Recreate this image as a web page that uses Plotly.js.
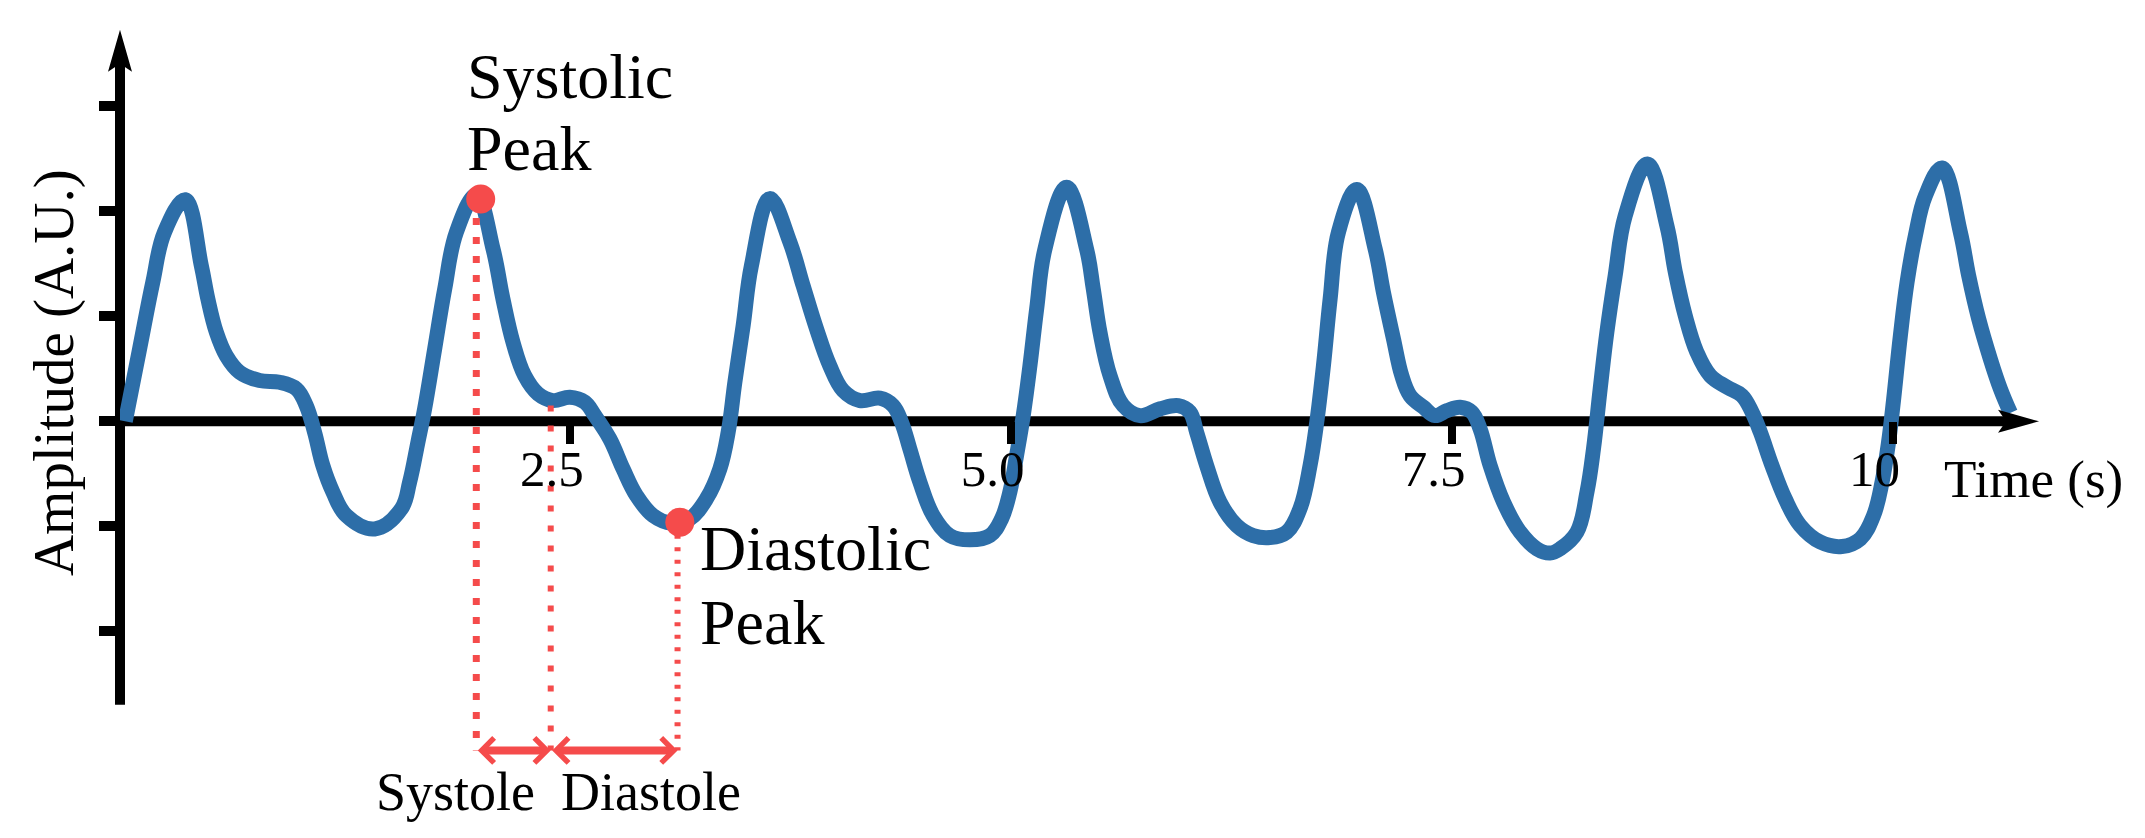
<!DOCTYPE html>
<html>
<head>
<meta charset="utf-8">
<script src="https://cdn.plot.ly/plotly-3.0.1.min.js"></script>
<style>
  html, body { margin: 0; padding: 0; background: white; }
  #ppgChart { width: 2145px; height: 838px; }
</style>
</head>
<body>
<div id="ppgChart"></div>
<script>
// PPG waveform (time in s, amplitude in arbitrary units)
const timeS = [
    -0.020, 0.061, 0.136, 0.202, 0.320, 0.411, 0.448, 0.496, 0.552, 0.628, 0.741, 0.855, 0.950,
    1.006, 1.053, 1.100, 1.157, 1.233, 1.394, 1.545, 1.592, 1.639, 1.677, 1.734, 1.791, 1.857, 1.970,
    2.065, 2.121, 2.178, 2.244, 2.320, 2.405, 2.500, 2.585, 2.642, 2.727, 2.802, 2.878, 2.972,
    3.077, 3.180, 3.275, 3.351, 3.398, 3.436, 3.483, 3.530, 3.634, 3.748, 3.823, 3.899, 3.974,
    4.050, 4.145, 4.258, 4.333, 4.381, 4.428, 4.485, 4.560, 4.655, 4.769, 4.882, 4.948, 4.995,
    5.033, 5.071, 5.109, 5.147, 5.194, 5.317, 5.430, 5.468, 5.506, 5.563, 5.638, 5.733, 5.846, 5.950,
    6.016, 6.054, 6.111, 6.187, 6.281, 6.375, 6.470, 6.565, 6.640, 6.697, 6.735, 6.773, 6.811, 6.858, 6.962,
    7.066, 7.113, 7.170, 7.217, 7.264, 7.340, 7.406, 7.473, 7.548, 7.614, 7.661, 7.718, 7.794, 7.888, 7.983,
    8.058, 8.115, 8.210, 8.267, 8.304, 8.342, 8.380, 8.427, 8.484, 8.610, 8.720, 8.768, 8.824, 8.890, 8.966,
    9.061, 9.146, 9.203, 9.250, 9.316, 9.391, 9.476, 9.590, 9.713, 9.817, 9.892, 9.940, 9.977,
    10.006, 10.044, 10.082, 10.129, 10.186, 10.280, 10.384, 10.431, 10.488, 10.554, 10.611, 10.668
];
const amplitude = [
    0.000, 0.690, 1.326, 1.802, 2.112, 1.484, 1.167, 0.850, 0.627, 0.469, 0.389, 0.373, 0.310,
    0.150, -0.103, -0.421, -0.674, -0.897, -1.025, -0.833, -0.579, -0.198, 0.119, 0.690, 1.262, 1.802, 2.157,
    1.643, 1.167, 0.754, 0.436, 0.262, 0.198, 0.230, 0.183, 0.055, -0.167, -0.452, -0.707, -0.897,
    -0.970, -0.929, -0.738, -0.452, -0.103, 0.373, 0.912, 1.484, 2.122, 1.707, 1.293, 0.881, 0.531,
    0.293, 0.198, 0.221, 0.150, -0.008, -0.262, -0.579, -0.897, -1.088, -1.129, -1.088, -0.929, -0.674,
    -0.326, 0.055, 0.531, 1.071, 1.643, 2.230, 1.643, 1.262, 0.850, 0.436, 0.150, 0.055, 0.119, 0.150,
    0.088, -0.103, -0.421, -0.770, -0.992, -1.088, -1.107, -1.055, -0.833, -0.421, -0.008, 0.531, 1.167, 1.802, 2.208,
    1.643, 1.230, 0.786, 0.436, 0.246, 0.135, 0.055, 0.103, 0.135, 0.088, -0.071, -0.421, -0.770, -1.055, -1.214,
    -1.255, -1.214, -1.055, -0.674, -0.262, 0.310, 0.850, 1.389, 1.960, 2.452, 1.865, 1.421, 1.008, 0.659, 0.436,
    0.326, 0.246, 0.088, -0.103, -0.421, -0.738, -0.992, -1.150, -1.192, -1.119, -0.897, -0.579, -0.198,
    0.214, 0.817, 1.326, 1.770, 2.150, 2.414, 1.802, 1.389, 0.976, 0.595, 0.310, 0.081
];

// marked peaks: [systolic, diastolic]
const peakTimes = [1.995, 3.124];
const peakAmps = [2.119, -0.960];
const peakLabelLines = [['Systolic', 'Peak'], ['Diastolic', 'Peak']];

// interval boundaries: systole start, systole end (dicrotic notch), diastole end
const intervalTimes = [1.970, 2.392, 3.111];
const intervalTops = [2.119, 0.150, -0.960];
const intervalNames = ['Systole', 'Diastole'];
const intervalLevel = -3.135;   // height of the systole / diastole arrows

// axes
const xTickVals = [2.5, 5, 7.5, 10];
const xTickText = ['2.5', '5.0', '7.5', '10'];
const yTickVals = [-2, -1, 0, 1, 2, 3];
const axisOrigin = -0.05;
const xAxisEnd = 10.83;
const yAxisTop = 3.73;
const yAxisBottom = -2.70;

const xRange = [-0.05, 11.0];
const yRange = [-3.35, 3.9];

const BLUE = '#2d6ea8';
const RED = '#f54b4b';
const SERIF = 'Liberation Serif, Times New Roman, serif';

const intervalDash = ['7px,12px', '6px,14px', '4px,8.5px'];

const traces = [
    {
        x: timeS,
        y: amplitude,
        type: 'scatter',
        mode: 'lines',
        line: { color: BLUE, width: 15, shape: 'spline', smoothing: 1.1 },
        hoverinfo: 'skip'
    }
];

// dotted guides from the curve down to the interval arrows
intervalTimes.forEach((t, i) => {
    traces.push({
        x: [t, t],
        y: [intervalTops[i], intervalLevel],
        type: 'scatter',
        mode: 'lines',
        line: { color: RED, width: i === 0 ? 7 : 6, dash: intervalDash[i] }
    });
});

traces.push({
    x: peakTimes,
    y: peakAmps,
    type: 'scatter',
    mode: 'markers',
    marker: { color: RED, size: 29 }
});

const yZeroPaper = (0 - yRange[0]) / (yRange[1] - yRange[0]);

const shapes = [
    // time axis, kept under the trace
    { type: 'line', xref: 'x', yref: 'y', x0: axisOrigin, x1: xAxisEnd - 0.15, y0: 0, y1: 0,
      line: { color: 'black', width: 10 }, layer: 'below' },
    // amplitude axis (paper x so it is not clipped at the plot edge)
    { type: 'line', xref: 'paper', yref: 'y', x0: 0, x1: 0, y0: yAxisBottom, y1: yAxisTop - 0.3,
      line: { color: 'black', width: 10 }, layer: 'below' },
    // arrow heads, drawn in pixels around the axis ends
    { type: 'path', xref: 'x', yref: 'paper', xsizemode: 'pixel', ysizemode: 'pixel',
      xanchor: xAxisEnd, yanchor: yZeroPaper,
      path: 'M 0 0 L -41 11.5 L -33 0 L -41 -11.5 Z',
      fillcolor: 'black', line: { width: 0 } },
    { type: 'path', xref: 'paper', yref: 'y', xsizemode: 'pixel', ysizemode: 'pixel',
      xanchor: 0, yanchor: yAxisTop,
      path: 'M 0 0 L 12 -42 L 0 -34 L -12 -42 Z',
      fillcolor: 'black', line: { width: 0 } }
];

function intervalArrow(t0, t1) {
    return {
        x: t1, y: intervalLevel, ax: t0, ay: intervalLevel,
        xref: 'x', yref: 'y', axref: 'x', ayref: 'y',
        text: '', showarrow: true,
        arrowhead: 4, arrowside: 'end+start', arrowwidth: 8, arrowsize: 0.6, arrowcolor: RED
    };
}

const annotations = [
    intervalArrow(intervalTimes[0], intervalTimes[1]),
    intervalArrow(intervalTimes[1], intervalTimes[2]),
    {
        x: intervalTimes[1], y: intervalLevel, xref: 'x', yref: 'y',
        text: intervalNames[0], showarrow: false, xanchor: 'right', yanchor: 'top',
        xshift: -14, yshift: -10,
        font: { family: SERIF, size: 54, color: 'black' }
    },
    {
        x: intervalTimes[1], y: intervalLevel, xref: 'x', yref: 'y',
        text: intervalNames[1], showarrow: false, xanchor: 'left', yanchor: 'top',
        xshift: 8, yshift: -10,
        font: { family: SERIF, size: 54, color: 'black' }
    },
    // axis titles
    {
        x: 1, y: 0, xref: 'paper', yref: 'y',
        text: 'Time (s)', showarrow: false, xanchor: 'right', yanchor: 'middle',
        xshift: 56, yshift: -58,
        font: { family: SERIF, size: 53, color: 'black' }
    },
    {
        x: 0, y: 0.46, xref: 'paper', yref: 'y',
        text: 'Amplitude (A.U.)', showarrow: false, textangle: -90,
        xanchor: 'center', yanchor: 'middle', xshift: -66,
        font: { family: SERIF, size: 57, color: 'black' }
    }
];

// peak labels, one annotation per line (tighter leading than Plotly's <br>)
const labelOffsets = [
    { xshift: -16, yshifts: [122, 50] },    // above the systolic peak
    { xshift: 18, yshifts: [-26, -100] }    // below-right of the diastolic peak
];
peakLabelLines.forEach((lines, i) => {
    lines.forEach((line, j) => {
        annotations.push({
            x: peakTimes[i], y: peakAmps[i], xref: 'x', yref: 'y',
            text: line, showarrow: false, xanchor: 'left', yanchor: 'middle',
            xshift: labelOffsets[i].xshift, yshift: labelOffsets[i].yshifts[j],
            font: { family: SERIF, size: 64, color: 'black' }
        });
    });
});

const layout = {
    width: 2145,
    height: 838,
    margin: { l: 120, r: 76, t: 12, b: 65 },
    paper_bgcolor: 'white',
    plot_bgcolor: 'white',
    showlegend: false,
    xaxis: {
        range: xRange,
        anchor: 'free',
        position: yZeroPaper,
        showline: false,
        showgrid: false,
        zeroline: false,
        ticks: 'outside',
        ticklen: 22,
        tickwidth: 8,
        tickcolor: 'black',
        tickvals: xTickVals,
        ticktext: xTickText,
        tickfont: { family: SERIF, size: 51, color: 'black' },
        ticklabelstandoff: -20,
        ticklabelshift: -18,
        automargin: false
    },
    yaxis: {
        range: yRange,
        showline: false,
        showgrid: false,
        zeroline: false,
        ticks: 'outside',
        ticklen: 20,
        tickwidth: 10,
        tickcolor: 'black',
        tickvals: yTickVals,
        showticklabels: false,
        automargin: false
    },
    shapes: shapes,
    annotations: annotations
};

Plotly.newPlot('ppgChart', traces, layout, { displayModeBar: false, staticPlot: true });
</script>
</body>
</html>
